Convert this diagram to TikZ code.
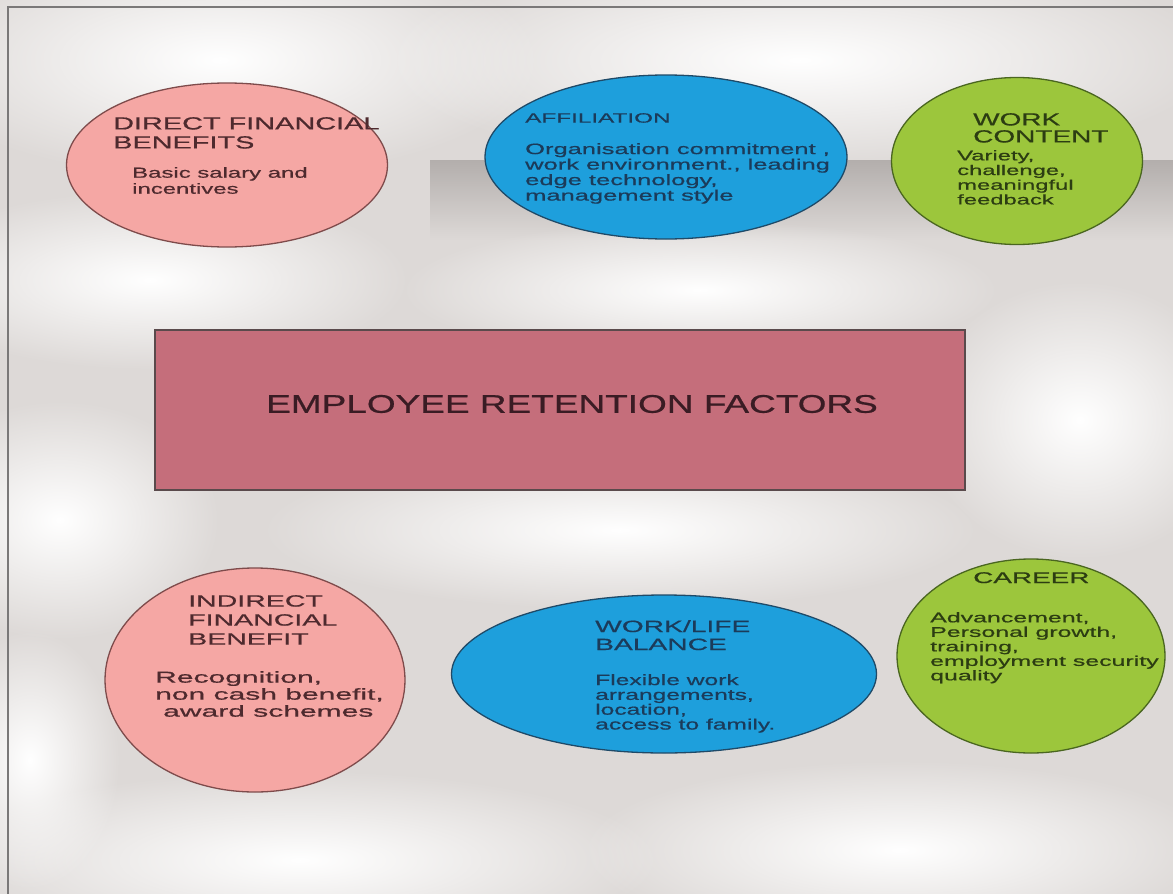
\documentclass[tikz,border=0pt]{standalone}
\usepackage{fontspec}
\setmainfont{Liberation Sans}
\newcommand\wfont[3]{\fontspec{Liberation Sans}[FakeStretch=#1,FakeBold=0.7]\fontsize{#2}{#3}\selectfont}
\usetikzlibrary{shapes.geometric,fadings}
\tikzfading[name=softcloud, inner color=transparent!0, outer color=transparent!100]
\definecolor{bgc}{HTML}{DDD9D7}
\definecolor{pinkfill}{HTML}{F5A7A4}
\definecolor{pinkline}{HTML}{7E4B4B}
\definecolor{pinktext}{HTML}{4E2A2E}
\definecolor{bluefill}{HTML}{1E9FDC}
\definecolor{blueline}{HTML}{1F4A68}
\definecolor{bluetext}{HTML}{1B3B5A}
\definecolor{greenfill}{HTML}{9CC63C}
\definecolor{greenline}{HTML}{4A6620}
\definecolor{greentext}{HTML}{2C3D12}
\definecolor{rectfill}{HTML}{C56E7B}
\definecolor{rectline}{HTML}{5A4A4C}
\definecolor{recttext}{HTML}{3A1C24}
\definecolor{framec}{HTML}{7A7878}
\definecolor{bandc}{HTML}{B3AEAC}
\begin{document}
\begin{tikzpicture}[x=1pt,y=-1pt,
  blob/.style={ellipse,draw,line width=1.3pt,inner sep=0pt},
  pinkblob/.style={blob,fill=pinkfill,draw=pinkline},
  blueblob/.style={blob,fill=bluefill,draw=blueline},
  greenblob/.style={blob,fill=greenfill,draw=greenline},
  txt/.style={inner sep=0pt,anchor=north west,align=left},
  cloud/.style={white,path fading=softcloud}]
\useasboundingbox (0,0) rectangle (1173,894);
% background
\fill[bgc] (0,0) rectangle (1173,894);
\fill[cloud] (220,60) ellipse [x radius=320,y radius=120];
\fill[cloud] (800,60) ellipse [x radius=420,y radius=110];
\shade[top color=bandc,bottom color=bgc] (430,160) rectangle (1173,240);
\fill[cloud] (150,280) ellipse [x radius=260,y radius=90];
\fill[cloud] (700,290) ellipse [x radius=300,y radius=70];
\fill[cloud] (1080,420) ellipse [x radius=160,y radius=140];
\fill[cloud] (60,520) ellipse [x radius=160,y radius=120];
\fill[cloud] (620,530) ellipse [x radius=360,y radius=80];
\fill[cloud] (300,860) ellipse [x radius=360,y radius=90];
\fill[cloud] (900,850) ellipse [x radius=320,y radius=90];
\fill[cloud] (30,760) ellipse [x radius=90,y radius=130];
\draw[framec,line width=2pt] (8,894) -- (8,7) -- (1173,7);
% central rectangle
\node[draw=rectline,fill=rectfill,line width=1.3pt,minimum width=810pt,minimum height=160pt,inner sep=0pt] (core) at (560,410) {};
\node[inner sep=0pt,text=recttext,font=\wfont{1.45}{25.5}{28}] (coretext) at (572,404) {EMPLOYEE RETENTION FACTORS};
% direct financial benefits
\node[pinkblob,minimum width=321pt,minimum height=164pt] (direct) at (227,165) {};
\node[txt,text=pinktext,font=\wfont{1.65}{17.5}{19}] (directh) at (113,117) {DIRECT FINANCIAL\\BENEFITS};
\node[txt,text=pinktext,font=\wfont{1.65}{14.5}{16}] (directb) at (132,167) {Basic salary and\\incentives};
% affiliation
\node[blueblob,minimum width=362pt,minimum height=164pt] (affil) at (666,157) {};
\node[txt,text=bluetext,font=\wfont{1.8}{13.5}{16}] (affilh) at (525,113) {AFFILIATION};
\node[txt,text=bluetext,font=\wfont{1.7}{15}{15.5}] (affilb) at (525,143) {Organisation commitment ,\\work environment., leading\\edge technology,\\management style};
% work content
\node[greenblob,minimum width=251pt,minimum height=167pt] (workc) at (1017,161) {};
\node[txt,text=greentext,font=\wfont{1.6}{17.5}{17}] (workch) at (973,113) {WORK\\CONTENT};
\node[txt,text=greentext,font=\wfont{1.7}{14}{14.7}] (workcb) at (957,150) {Variety,\\challenge,\\meaningful\\feedback};
% indirect financial benefit
\node[pinkblob,minimum width=300pt,minimum height=224pt] (indirect) at (255,680) {};
\node[txt,text=pinktext,font=\wfont{1.75}{16.3}{19}] (indirecth) at (188,595) {INDIRECT\\FINANCIAL\\BENEFIT};
\node[txt,text=pinktext,font=\wfont{1.9}{15.8}{17}] (indirectb) at (155,671) {Recognition,\\non cash benefit,\\\hspace*{8pt}award schemes};
% work/life balance
\node[blueblob,minimum width=425pt,minimum height=158pt] (worklife) at (664,674) {};
\node[txt,text=bluetext,font=\wfont{1.73}{16.3}{18}] (worklifeh) at (595,620) {WORK/LIFE\\BALANCE};
\node[txt,text=bluetext,font=\wfont{1.64}{15}{14.8}] (worklifeb) at (595,674) {Flexible work\\arrangements,\\location,\\access to family.};
% career
\node[greenblob,minimum width=268pt,minimum height=194pt] (career) at (1031,656) {};
\node[inner sep=0pt,anchor=north west,text=greentext,font=\wfont{1.8}{15.5}{17}] (careerh) at (973,572) {CAREER};
\node[txt,text=greentext,font=\wfont{1.78}{14}{14.5}] (careerb) at (930,612) {Advancement,\\Personal growth,\\training,\\employment security\\quality};
\end{tikzpicture}
\end{document}
